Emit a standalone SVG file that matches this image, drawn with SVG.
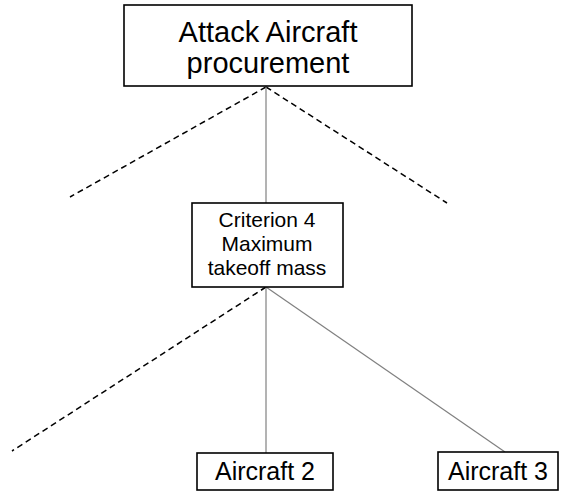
<svg xmlns="http://www.w3.org/2000/svg" width="566" height="491" viewBox="0 0 566 491">
  <style>
    .box { fill: #ffffff; stroke: #000000; stroke-width: 1.6; }
    .label { font-family: "Liberation Sans", Arial, sans-serif; fill: #000000; text-anchor: middle; }
    .solid { stroke: #808080; stroke-width: 1.2; fill: none; }
    .dashed { stroke: #000000; stroke-width: 1.5; stroke-dasharray: 6 4; fill: none; }
  </style>
  <rect width="566" height="491" fill="#ffffff"/>

  <g id="connectors">
    <line class="dashed" x1="266" y1="87" x2="70" y2="197"/>
    <line class="dashed" x1="266" y1="87" x2="447" y2="203"/>
    <line class="solid" x1="266" y1="87" x2="266" y2="203"/>
    <line class="dashed" x1="266" y1="287" x2="12" y2="451"/>
    <line class="solid" x1="266" y1="287" x2="266" y2="453"/>
    <line class="solid" x1="266" y1="287" x2="505" y2="452"/>
  </g>

  <g id="goal">
    <rect class="box" x="124" y="5" width="288" height="81"/>
    <text class="label" x="268" y="42" font-size="29">Attack Aircraft</text>
    <text class="label" x="268" y="73" font-size="29">procurement</text>
  </g>

  <g id="criterion4">
    <rect class="box" x="192" y="203" width="151" height="84"/>
    <text class="label" x="267" y="227" font-size="21">Criterion 4</text>
    <text class="label" x="267" y="251" font-size="21">Maximum</text>
    <text class="label" x="267" y="275" font-size="21">takeoff mass</text>
  </g>

  <g id="aircraft2">
    <rect class="box" x="197" y="453" width="136" height="37"/>
    <text class="label" x="265" y="480" font-size="25">Aircraft 2</text>
  </g>

  <g id="aircraft3">
    <rect class="box" x="438" y="452" width="120" height="38"/>
    <text class="label" x="498" y="480" font-size="25">Aircraft 3</text>
  </g>
</svg>
